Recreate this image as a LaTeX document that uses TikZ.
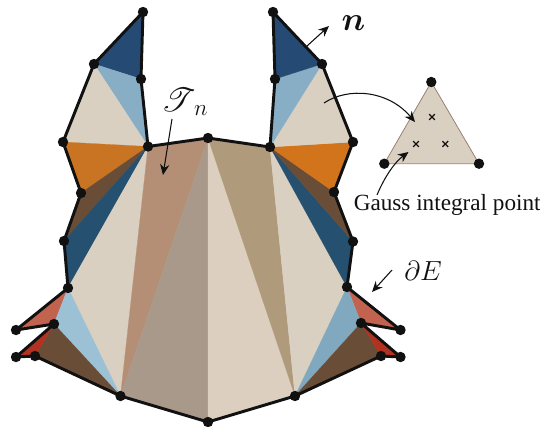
\documentclass[tikz,border=0pt]{standalone}
\usepackage{amsmath,amssymb,mathrsfs}
\usepackage{fontspec}
\newfontfamily\gaussfont{Liberation Serif}
\usetikzlibrary{shapes.misc,arrows.meta}
\definecolor{navy}{HTML}{254A74}
\definecolor{ltblue}{HTML}{88AEC6}
\definecolor{ltblueb}{HTML}{9CC0D4}
\definecolor{ltbluec}{HTML}{80A8BF}
\definecolor{beige}{HTML}{D9D0C1}
\definecolor{orangeL}{HTML}{C97423}
\definecolor{orangeR}{HTML}{D2741C}
\definecolor{brownM}{HTML}{6A4D36}
\definecolor{teal2}{HTML}{26506F}
\definecolor{terra}{HTML}{B48E75}
\definecolor{greyb}{HTML}{A9998B}
\definecolor{ltbeige}{HTML}{DCCFBF}
\definecolor{tan2}{HTML}{B09A7C}
\definecolor{pinkr}{HTML}{C26350}
\definecolor{redr}{HTML}{B23222}
\definecolor{ink}{HTML}{111111}
\tikzset{
  bound/.style={draw=ink,line width=2.2pt,line join=round},
  vtx/.style={circle,fill=ink,inner sep=0pt,minimum size=7.8pt},
  gpt/.style={cross out,draw=ink,line width=0.9pt,inner sep=0pt,minimum size=3.4pt},
  ann/.style={draw=ink,line width=0.8pt,-{Stealth[length=8pt,width=7pt]}},
  lab/.style={text=ink,inner sep=0pt},
}
\newcommand{\tri}[4]{\fill[#1,draw=#1,line width=0.2pt,line join=round] (#2)--(#3)--(#4)--cycle;}
\begin{document}
\begin{tikzpicture}[x=0.75pt,y=-0.75pt]
\useasboundingbox (0,0) rectangle (540,426);
\foreach \n/\x/\y in {A/143/12,B/94/64,C/141/79,D/148/146.5,E/63/142,F/81/193,G/64/241,H/68/288,I/54/324,J/16/330,K/16/357,L/35/356,M/120.5/396,N/208/422,O/208/138,
 a/273/12,b/322/64,c/275/79,d/270/147,e/353/142,f/334/192,g/353/241.5,h/347/287,i/361/323,j/400.5/330,k/400.5/357,l/381/356,m/295/396}
  {\coordinate (\n) at (\x,\y);}
\tri{navy}{A}{B}{C}
\tri{ltblue}{B}{C}{D}
\tri{beige}{B}{D}{E}
\tri{orangeL}{E}{D}{F}
\tri{brownM}{F}{D}{G}
\tri{teal2}{D}{G}{H}
\tri{beige}{D}{H}{M}
\tri{terra}{D}{O}{M}
\tri{greyb}{O}{M}{N}
\tri{ltbeige}{O}{N}{m}
\tri{tan2}{O}{d}{m}
\tri{beige}{d}{h}{m}
\tri{teal2}{d}{g}{h}
\tri{brownM}{d}{f}{g}
\tri{orangeR}{d}{e}{f}
\tri{beige}{b}{d}{e}
\tri{ltblue}{b}{c}{d}
\tri{navy}{a}{b}{c}
\tri{pinkr}{H}{I}{J}
\tri{ltblueb}{H}{I}{M}
\tri{brownM}{I}{L}{M}
\tri{redr}{I}{K}{L}
\tri{pinkr}{h}{i}{j}
\tri{ltbluec}{h}{i}{m}
\tri{brownM}{i}{l}{m}
\tri{redr}{i}{k}{l}
\draw[bound] (A)--(B)--(E)--(F)--(G)--(H)--(J)--(I)--(K)--(L)--(M)--(N)--(m)--(l)--(k)--(i)--(j)--(h)--(g)--(f)--(e)--(b)--(a)--(c)--(d)--(O)--(D)--(C)--cycle;
\foreach \n in {A,B,C,D,E,F,G,H,I,J,K,L,M,N,O,a,b,c,d,e,f,g,h,i,j,k,l,m}
  \node[vtx] (v\n) at (\n) {};
% inset triangle
\coordinate (P) at (431.3,82);
\coordinate (Q) at (384.3,163.7);
\coordinate (R) at (479,163.7);
\fill[beige,draw=brownM!70,line width=0.6pt] (P)--(Q)--(R)--cycle;
\node[vtx] (vP) at (P) {};
\node[vtx] (vQ) at (Q) {};
\node[vtx] (vR) at (R) {};
\node[gpt] (g1) at (432,117) {};
\node[gpt] (g2) at (416,144) {};
\node[gpt] (g3) at (445.3,144) {};
% annotations
\coordinate (n1) at (307,46);
\coordinate (n2) at (329,26);
\draw[ann] (n1)--(n2);
\node[lab,font=\fontsize{24}{24}\selectfont] (nlab) at (353.5,23) {$\boldsymbol{n}$};
\coordinate (t1) at (172,119);
\coordinate (t2) at (163,175);
\draw[ann] (t1)--(t2);
\node[lab,font=\fontsize{32}{32}\selectfont,anchor=base west] (tlab) at (161,111) {$\mathscr{T}_{\scriptscriptstyle\hspace{6pt}n}$};
\coordinate (e1) at (392,270);
\coordinate (e2) at (372,292);
\draw[ann] (e1)--(e2);
\node[lab,font=\fontsize{21.5}{21.5}\selectfont] (elab) at (423,271) {$\partial E$};
\coordinate (c1) at (324,103);
\coordinate (c2) at (415,122);
\draw[ann] (c1) .. controls (348,87) and (388,90) .. (c2);
\coordinate (c3) at (377,195);
\coordinate (c4) at (408.5,152);
\draw[ann] (c3) .. controls (385,176) and (395,162) .. (c4);
\node[lab,font=\gaussfont\fontsize{17.4}{17.4}\selectfont,anchor=west] (glab) at (353.5,204.5) {Gauss integral point};
\end{tikzpicture}
\end{document}
